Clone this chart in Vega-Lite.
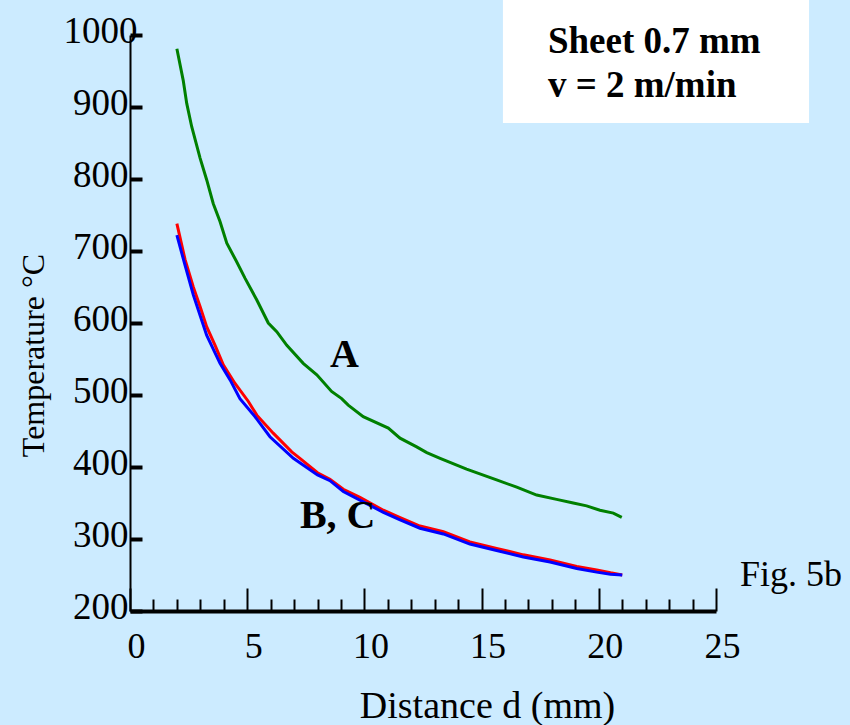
{
  "$schema": "https://vega.github.io/schema/vega-lite/v6.json",
  "width": 586,
  "height": 576,
  "autosize": {"type": "none"},
  "padding": {"left": 130, "top": 35, "right": 134, "bottom": 114},
  "background": "#CCEBFF",
  "config": {
    "view": {"stroke": null},
    "font": "Liberation Serif",
    "axis": {"labelColor": "black", "titleColor": "black", "tickColor": "black", "domainColor": "black", "grid": false, "titleFontWeight": "normal"}
  },
  "datasets": {
    "curves": [
      {"series": "A", "d": 2.0, "t": 981},
      {"series": "A", "d": 2.27, "t": 937},
      {"series": "A", "d": 2.42, "t": 905},
      {"series": "A", "d": 2.63, "t": 873},
      {"series": "A", "d": 2.99, "t": 829},
      {"series": "A", "d": 3.27, "t": 799},
      {"series": "A", "d": 3.55, "t": 766},
      {"series": "A", "d": 3.84, "t": 741},
      {"series": "A", "d": 4.13, "t": 711},
      {"series": "A", "d": 4.55, "t": 685},
      {"series": "A", "d": 4.91, "t": 662},
      {"series": "A", "d": 5.41, "t": 632},
      {"series": "A", "d": 5.9, "t": 600},
      {"series": "A", "d": 6.26, "t": 588},
      {"series": "A", "d": 6.69, "t": 569},
      {"series": "A", "d": 7.39, "t": 544},
      {"series": "A", "d": 7.97, "t": 528},
      {"series": "A", "d": 8.6, "t": 505},
      {"series": "A", "d": 9.03, "t": 495},
      {"series": "A", "d": 9.31, "t": 486},
      {"series": "A", "d": 9.95, "t": 470},
      {"series": "A", "d": 11.02, "t": 454},
      {"series": "A", "d": 11.52, "t": 440},
      {"series": "A", "d": 12.23, "t": 428},
      {"series": "A", "d": 12.66, "t": 420},
      {"series": "A", "d": 13.23, "t": 412},
      {"series": "A", "d": 14.36, "t": 397},
      {"series": "A", "d": 15.64, "t": 382},
      {"series": "A", "d": 16.5, "t": 372},
      {"series": "A", "d": 17.35, "t": 361},
      {"series": "A", "d": 18.2, "t": 355},
      {"series": "A", "d": 18.91, "t": 350},
      {"series": "A", "d": 19.48, "t": 346},
      {"series": "A", "d": 20.05, "t": 340},
      {"series": "A", "d": 20.62, "t": 336},
      {"series": "A", "d": 20.98, "t": 330},
      {"series": "B", "d": 2.0, "t": 738},
      {"series": "B", "d": 2.35, "t": 688},
      {"series": "B", "d": 2.7, "t": 650},
      {"series": "B", "d": 3.0, "t": 622},
      {"series": "B", "d": 3.27, "t": 595},
      {"series": "B", "d": 3.63, "t": 569},
      {"series": "B", "d": 3.98, "t": 542},
      {"series": "B", "d": 4.48, "t": 516},
      {"series": "B", "d": 5.05, "t": 491},
      {"series": "B", "d": 5.41, "t": 472},
      {"series": "B", "d": 6.11, "t": 447},
      {"series": "B", "d": 6.9, "t": 421},
      {"series": "B", "d": 7.25, "t": 412},
      {"series": "B", "d": 8.0, "t": 392},
      {"series": "B", "d": 8.53, "t": 383},
      {"series": "B", "d": 9.1, "t": 369},
      {"series": "B", "d": 9.81, "t": 358},
      {"series": "B", "d": 10.81, "t": 340},
      {"series": "B", "d": 11.5, "t": 330},
      {"series": "B", "d": 12.37, "t": 318},
      {"series": "B", "d": 13.37, "t": 310},
      {"series": "B", "d": 14.5, "t": 296},
      {"series": "B", "d": 15.64, "t": 287},
      {"series": "B", "d": 16.78, "t": 278},
      {"series": "B", "d": 17.92, "t": 271},
      {"series": "B", "d": 19.06, "t": 262},
      {"series": "B", "d": 19.91, "t": 257},
      {"series": "B", "d": 20.5, "t": 253},
      {"series": "B", "d": 21.0, "t": 250},
      {"series": "C", "d": 2.0, "t": 722},
      {"series": "C", "d": 2.35, "t": 680},
      {"series": "C", "d": 2.7, "t": 639},
      {"series": "C", "d": 3.27, "t": 583},
      {"series": "C", "d": 3.84, "t": 544},
      {"series": "C", "d": 4.27, "t": 521},
      {"series": "C", "d": 4.69, "t": 495},
      {"series": "C", "d": 5.33, "t": 470},
      {"series": "C", "d": 5.97, "t": 442},
      {"series": "C", "d": 6.97, "t": 412},
      {"series": "C", "d": 8.0, "t": 389},
      {"series": "C", "d": 8.53, "t": 381},
      {"series": "C", "d": 9.1, "t": 366},
      {"series": "C", "d": 9.81, "t": 354},
      {"series": "C", "d": 10.81, "t": 337},
      {"series": "C", "d": 11.5, "t": 327},
      {"series": "C", "d": 12.37, "t": 315},
      {"series": "C", "d": 13.37, "t": 307},
      {"series": "C", "d": 14.5, "t": 293},
      {"series": "C", "d": 15.64, "t": 284},
      {"series": "C", "d": 16.78, "t": 275},
      {"series": "C", "d": 17.92, "t": 268},
      {"series": "C", "d": 19.06, "t": 259},
      {"series": "C", "d": 19.91, "t": 254},
      {"series": "C", "d": 20.5, "t": 251},
      {"series": "C", "d": 21.0, "t": 250}
    ],
    "box": [{"d": 15.91, "d2": 28.97, "t": 877.8, "t2": 1048.6}],
    "curveLabels": [
      {"label": "A", "d": 8.53, "t": 539},
      {"label": "B, C", "d": 7.25, "t": 315}
    ],
    "boxText": [
      {"label": "Sheet 0.7 mm", "d": 17.83, "t": 975},
      {"label": "v = 2 m/min", "d": 17.83, "t": 914}
    ],
    "figLabel": [{"label": "Fig. 5b", "d": 26.02, "t": 234.7}]
  },
  "encoding": {
    "x": {
      "field": "d", "type": "quantitative",
      "scale": {"domain": [0, 25], "nice": false, "zero": false},
      "axis": {
        "values": [0,1,2,3,4,5,6,7,8,9,10,11,12,13,14,15,16,17,18,19,20,21,22,23,24,25],
        "format": "d",
        "title": "Distance d (mm)",
        "titleFont": "Liberation Serif", "titleFontSize": 38,
        "titleX": 357, "titleY": 106, "titleBaseline": "alphabetic", "titleAlign": "center", "titleAngle": 0,
        "labelExpr": "datum.value % 5 === 0 ? datum.label : ''",
        "labelFont": "Liberation Serif", "labelFontSize": 36,
        "labelFlush": false, "labelOverlap": false, "labelBaseline": "alphabetic",
        "labelPadding": 69, "labelOffset": 6,
        "tickSize": {"condition": {"test": "datum.value % 5 === 0", "value": -23}, "value": -12},
        "tickWidth": 2, "domainWidth": 4
      }
    },
    "y": {
      "field": "t", "type": "quantitative",
      "scale": {"domain": [200, 1000], "nice": false, "zero": false},
      "axis": {
        "values": [200, 300, 400, 500, 600, 700, 800, 900, 1000],
        "format": "d",
        "title": "Temperature °C",
        "titleFont": "Liberation Serif", "titleFontSize": 32,
        "titleX": -87, "titleY": 320, "titleBaseline": "alphabetic", "titleAlign": "center", "titleAngle": -90,
        "labelFont": "Liberation Serif", "labelFontSize": 37,
        "labelBaseline": "alphabetic", "labelOffset": 7,
        "labelPadding": {"condition": {"test": "datum.value === 1000", "value": 5}, "value": 14},
        "labelOverlap": false, "labelFlush": false,
        "tickSize": -12, "tickWidth": 4, "domainWidth": 2
      }
    }
  },
  "layer": [
    {
      "data": {"name": "box"},
      "mark": {"type": "rect", "color": "white", "clip": false},
      "encoding": {"x2": {"field": "d2"}, "y2": {"field": "t2"}}
    },
    {
      "data": {"name": "curves"},
      "mark": {"type": "line", "strokeWidth": 3},
      "encoding": {
        "color": {
          "field": "series", "type": "nominal",
          "scale": {"domain": ["A", "B", "C"], "range": ["#008000", "#FF0000", "#0000FF"]},
          "legend": null
        }
      }
    },
    {
      "data": {"name": "curveLabels"},
      "mark": {"type": "text", "align": "left", "baseline": "alphabetic", "font": "Liberation Serif", "fontWeight": "bold", "fontSize": 40, "color": "black"},
      "encoding": {"text": {"field": "label"}}
    },
    {
      "data": {"name": "boxText"},
      "mark": {"type": "text", "align": "left", "baseline": "alphabetic", "font": "Liberation Serif", "fontWeight": "bold", "fontSize": 37, "color": "black"},
      "encoding": {"text": {"field": "label"}}
    },
    {
      "data": {"name": "figLabel"},
      "mark": {"type": "text", "align": "left", "baseline": "alphabetic", "font": "Liberation Serif", "fontSize": 36, "color": "black"},
      "encoding": {"text": {"field": "label"}}
    }
  ]
}
